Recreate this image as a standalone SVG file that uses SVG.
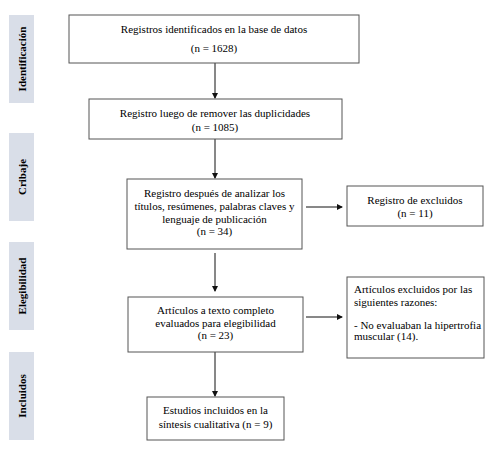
<svg xmlns="http://www.w3.org/2000/svg" width="490" height="454" viewBox="0 0 490 454">
<defs>
<style>
.box{fill:#fff;stroke:#555;stroke-width:1}
.side{fill:#d9dee8}
.t{font-family:"Liberation Serif","Times New Roman",serif;font-size:11px;fill:#000;text-anchor:middle}
.tl{font-family:"Liberation Serif","Times New Roman",serif;font-size:11px;fill:#000}
.s{font-family:"Liberation Serif","Times New Roman",serif;font-size:11px;font-weight:bold;fill:#000;text-anchor:middle}
.c{stroke:#111;stroke-width:1;fill:none;marker-end:url(#ah)}
</style>
<marker id="ah" markerWidth="6" markerHeight="6" refX="5" refY="3" orient="auto" markerUnits="userSpaceOnUse">
<path d="M0,0 L6,3 L0,6 z" fill="#111"/>
</marker>
</defs>
<rect width="490" height="454" fill="#fff"/>
<g id="side-identificacion"><rect class="side" x="9" y="15" width="25" height="88"/><text class="s" transform="translate(25.5,59) rotate(-90)">Identificación</text></g>
<g id="side-cribaje"><rect class="side" x="9" y="133" width="25" height="88"/><text class="s" transform="translate(25.5,177) rotate(-90)">Cribaje</text></g>
<g id="side-elegibilidad"><rect class="side" x="9" y="242" width="25" height="88"/><text class="s" transform="translate(25.5,286) rotate(-90)">Elegibilidad</text></g>
<g id="side-incluidos"><rect class="side" x="9" y="352" width="25" height="88"/><text class="s" transform="translate(25.5,396) rotate(-90)">Incluidos</text></g>
<g id="connectors">
<line class="c" x1="215" y1="63" x2="215" y2="98"/>
<line class="c" x1="215" y1="139" x2="215" y2="178"/>
<line class="c" x1="215" y1="253" x2="215" y2="291"/>
<line class="c" x1="215" y1="352" x2="215" y2="396"/>
<line class="c" x1="306" y1="207" x2="342" y2="207"/>
<line class="c" x1="306" y1="317" x2="342" y2="317"/>
</g>
<g id="n1"><rect class="box" x="69" y="15" width="290" height="48"/><text class="t" x="214" y="33">Registros identificados en la base de datos</text><text class="t" x="214" y="52">(n = 1628)</text></g>
<g id="n2"><rect class="box" x="89" y="99" width="253" height="40"/><text class="t" x="215" y="117">Registro luego de remover las duplicidades</text><text class="t" x="215" y="131">(n = 1085)</text></g>
<g id="n3"><rect class="box" x="127" y="179" width="175" height="70"/><text class="t" x="214.5" y="197">Registro después de analizar los</text><text class="t" x="214.5" y="210">títulos, resúmenes, palabras claves y</text><text class="t" x="214.5" y="223">lenguaje de publicación</text><text class="t" x="214.5" y="235">(n = 34)</text></g>
<g id="n4"><rect class="box" x="347" y="186" width="136" height="40"/><text class="t" x="415" y="204">Registro de excluidos</text><text class="t" x="415" y="217">(n = 11)</text></g>
<g id="n5"><rect class="box" x="128" y="297" width="175" height="55"/><text class="t" x="215.5" y="314">Artículos a texto completo</text><text class="t" x="215.5" y="327">evaluados para elegibilidad</text><text class="t" x="215.5" y="339">(n = 23)</text></g>
<g id="n6"><rect class="box" x="347" y="277" width="137" height="81"/><text class="tl" x="354" y="293">Artículos excluidos por las</text><text class="tl" x="354" y="306">siguientes razones:</text><text class="tl" x="354" y="329">- No evaluaban la hipertrofia</text><text class="tl" x="354" y="340">muscular (14).</text></g>
<g id="n7"><rect class="box" x="147" y="397" width="137" height="43"/><text class="t" x="215.5" y="414">Estudios incluidos en la</text><text class="t" x="215.5" y="428">síntesis cualitativa (n = 9)</text></g>
</svg>
